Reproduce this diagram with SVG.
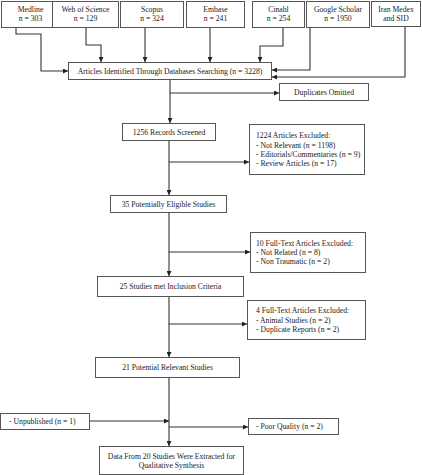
<svg xmlns="http://www.w3.org/2000/svg" width="422" height="475" viewBox="0 0 422 475">
<style>
.b{fill:#fff;stroke:#555;stroke-width:1}
.t{font-family:"Liberation Serif",serif;font-size:7.7px;fill:#222}
.c{text-anchor:middle}
.l{fill:none;stroke:#333;stroke-width:1.1}
</style>
<defs>
<marker id="a" viewBox="0 0 6 6" refX="6" refY="3" markerWidth="5" markerHeight="5" orient="auto" markerUnits="userSpaceOnUse"><path d="M0,0L6,3L0,6Z" fill="#222"/></marker>
</defs>
<rect width="422" height="475" fill="#fff"/>
<g id="medline"><rect class="b" x="1.5" y="1.5" width="58" height="26"/><text class="t c" x="30.5" y="12">Medline</text><text class="t c" x="30.5" y="21">n = 303</text></g>
<g id="wos"><rect class="b" x="52.5" y="1.5" width="66" height="26"/><text class="t c" x="85.5" y="12">Web of Science</text><text class="t c" x="85.5" y="21">n = 129</text></g>
<g id="scopus"><rect class="b" x="120.5" y="1.5" width="63" height="26"/><text class="t c" x="152" y="12">Scopus</text><text class="t c" x="152" y="21">n = 324</text></g>
<g id="embase"><rect class="b" x="186.5" y="1.5" width="58" height="26"/><text class="t c" x="215.5" y="12">Embase</text><text class="t c" x="215.5" y="21">n = 241</text></g>
<g id="cinahl"><rect class="b" x="252.5" y="1.5" width="52" height="26"/><text class="t c" x="278.5" y="12">Cinahl</text><text class="t c" x="278.5" y="21">n = 254</text></g>
<g id="google"><rect class="b" x="306.5" y="1.5" width="63" height="26"/><text class="t c" x="338" y="12">Google Scholar</text><text class="t c" x="338" y="21">n = 1950</text></g>
<g id="iran"><rect class="b" x="371.5" y="1.5" width="49" height="25"/><text class="t c" x="396" y="12">Iran Medex</text><text class="t c" x="396" y="21">and SID</text></g>
<g id="identified"><rect class="b" x="68.5" y="62.5" width="203" height="17"/><text class="t c" x="170" y="73.5">Articles Identified Through Databases Searching (n = 3228)</text></g>
<g id="duplicates"><rect class="b" x="279.5" y="83.5" width="89" height="17"/><text class="t c" x="324" y="94.5">Duplicates Omitted</text></g>
<g id="screened"><rect class="b" x="122.5" y="123.5" width="93" height="17"/><text class="t c" x="169" y="134.5">1256 Records Screened</text></g>
<g id="excl1"><rect class="b" x="249.5" y="124.5" width="115" height="50"/><text class="t" x="256" y="138">1224 Articles Excluded:</text><text class="t" x="256" y="148">- Not Relevant (n = 1198)</text><text class="t" x="256" y="157">- Editorials/Commentaries (n = 9)</text><text class="t" x="256" y="166">- Review Articles (n = 17)</text></g>
<g id="eligible"><rect class="b" x="110.5" y="195.5" width="116" height="17"/><text class="t c" x="168.5" y="206.5">35 Potentially Eligible Studies</text></g>
<g id="excl2"><rect class="b" x="250.5" y="232.5" width="115" height="40"/><text class="t" x="256" y="245.5">10 Full-Text Articles Excluded:</text><text class="t" x="256" y="255">- Not Related (n = 8)</text><text class="t" x="256" y="264">- Non Traumatic (n = 2)</text></g>
<g id="inclusion"><rect class="b" x="97.5" y="276.5" width="146" height="20"/><text class="t c" x="170.5" y="289">25 Studies met Inclusion Criteria</text></g>
<g id="excl3"><rect class="b" x="247.5" y="300.5" width="118" height="39"/><text class="t" x="256" y="312.5">4 Full-Text Articles Excluded:</text><text class="t" x="256" y="322.5">- Animal Studies (n = 2)</text><text class="t" x="256" y="331.5">- Duplicate Reports (n = 2)</text></g>
<g id="relevant"><rect class="b" x="95.5" y="357.5" width="144" height="20"/><text class="t c" x="167.5" y="370">21 Potential Relevant Studies</text></g>
<g id="unpublished"><rect class="b" x="0.5" y="413.5" width="89" height="16"/><text class="t" x="9" y="424">- Unpublished (n = 1)</text></g>
<g id="poor"><rect class="b" x="248.5" y="418.5" width="90" height="16"/><text class="t" x="256" y="429">- Poor Quality (n = 2)</text></g>
<g id="final"><rect class="b" x="99.5" y="446.5" width="144" height="28"/><text class="t c" x="171.5" y="459">Data From 20 Studies Were Extracted for</text><text class="t c" x="171.5" y="468">Qualitative Synthesis</text></g>
<g id="connectors">
<path class="l" d="M16,28V34H41V71H68" marker-end="url(#a)"/>
<path class="l" d="M86,28V45H101V62" marker-end="url(#a)"/>
<path class="l" d="M145,28V62" marker-end="url(#a)"/>
<path class="l" d="M210,28V62" marker-end="url(#a)"/>
<path class="l" d="M283,28V46H260V62" marker-end="url(#a)"/>
<path class="l" d="M310,28V70H272" marker-end="url(#a)"/>
<path class="l" d="M405,27V77H272" marker-end="url(#a)"/>
<path class="l" d="M170,80V123" marker-end="url(#a)"/>
<path class="l" d="M170,93H279" marker-end="url(#a)"/>
<path class="l" d="M169,141V195" marker-end="url(#a)"/>
<path class="l" d="M169,162H249" marker-end="url(#a)"/>
<path class="l" d="M169,213V276" marker-end="url(#a)"/>
<path class="l" d="M169,252H250" marker-end="url(#a)"/>
<path class="l" d="M169,297V357" marker-end="url(#a)"/>
<path class="l" d="M169,324H247" marker-end="url(#a)"/>
<path class="l" d="M169,378V446" marker-end="url(#a)"/>
<path class="l" d="M90,421H169" marker-end="url(#a)"/>
<path class="l" d="M169,427H248" marker-end="url(#a)"/>
</g>
</svg>
